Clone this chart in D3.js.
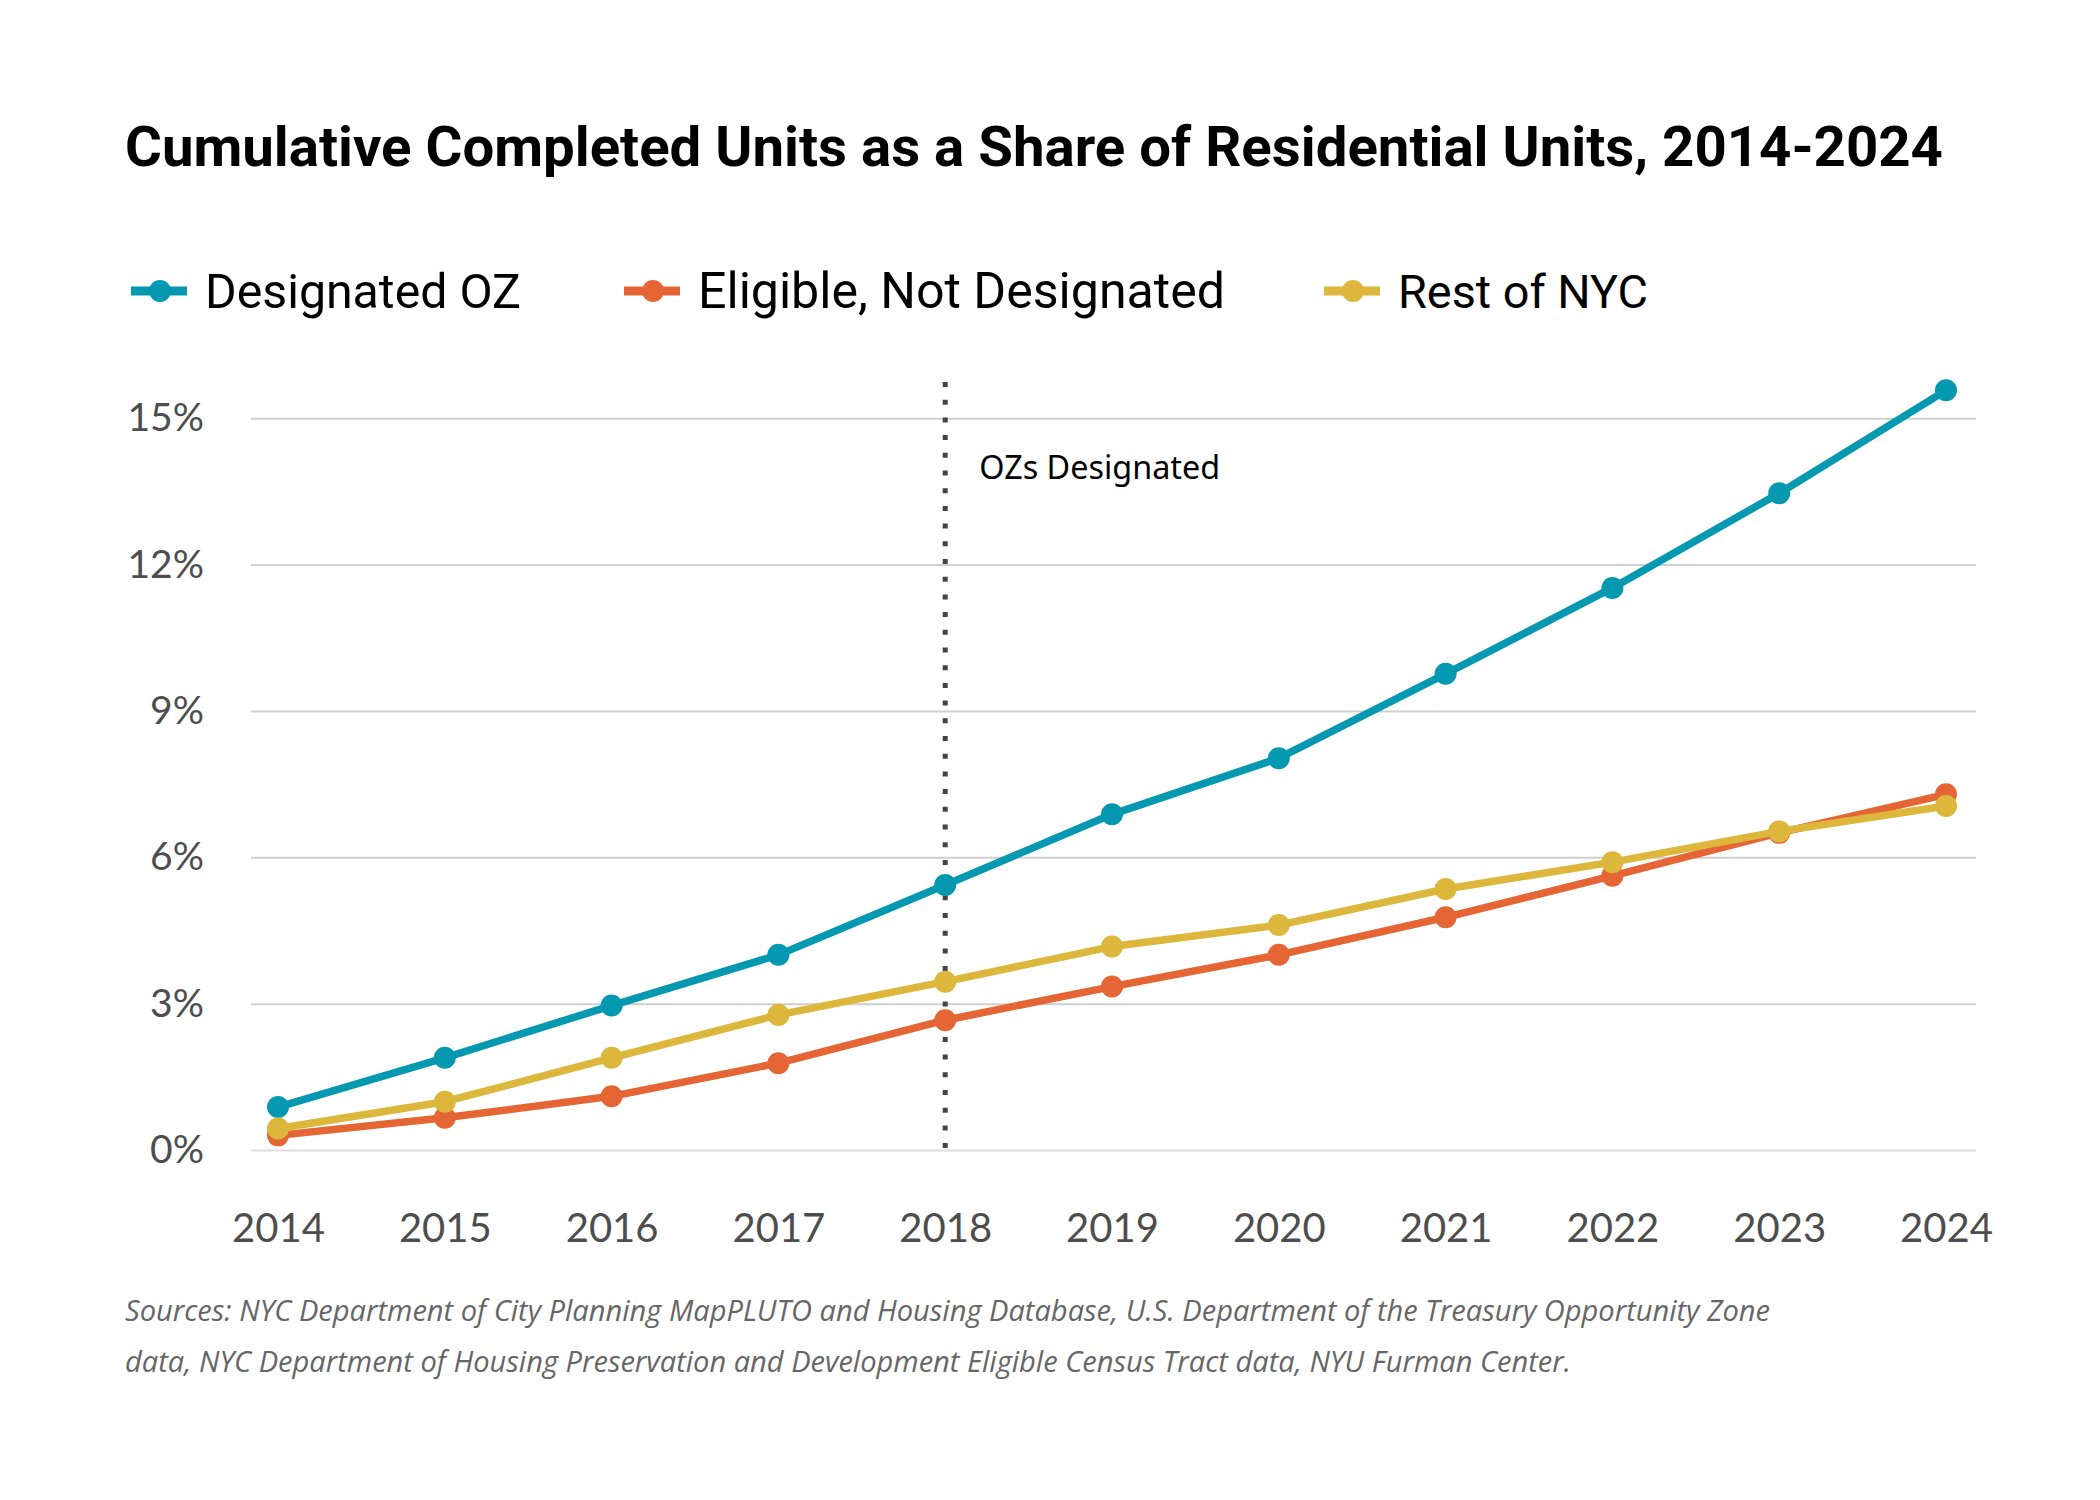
<!DOCTYPE html>
<html>
<head>
<meta charset="utf-8">
<script src="https://cdn.jsdelivr.net/npm/d3@7"></script>
<style>
    body { margin: 0; background: #fff; }
    svg { display: block; }
</style>
</head>
<body>
<div id="svg_container"></div>
<script>
const CANVAS = {
    w: 2100,
    h: 1500
};

// --- DATOS ---
const years = [2014, 2015, 2016, 2017, 2018, 2019, 2020, 2021, 2022, 2023, 2024];
const seriesNames = ["Designated OZ", "Eligible, Not Designated", "Rest of NYC"];
const designatedOZ = [0.88, 1.89, 2.96, 4.0, 5.43, 6.88, 8.03, 9.76, 11.52, 13.46, 15.57];
const eligibleNotDesignated = [0.30, 0.66, 1.10, 1.78, 2.66, 3.35, 4.0, 4.77, 5.62, 6.50, 7.29];
const restOfNYC = [0.44, 0.99, 1.89, 2.77, 3.45, 4.17, 4.61, 5.35, 5.90, 6.53, 7.05];
const yTicks = [0, 3, 6, 9, 12, 15];
const designationYear = 2018;

const title = "Cumulative Completed Units as a Share of Residential Units, 2014-2024";
const annotation = "OZs Designated";
const sourceLines = [
    "Sources: NYC Department of City Planning MapPLUTO and Housing Database, U.S. Department of the Treasury Opportunity Zone",
    "data, NYC Department of Housing Preservation and Development Eligible Census Tract data, NYU Furman Center."
];

const colors = ["#0499b1", "#e66535", "#dcb73c"];

const series = seriesNames.map((name, i) => ({
    name,
    color: colors[i],
    values: [designatedOZ, eligibleNotDesignated, restOfNYC][i].map((v, j) => ({ year: years[j], value: v }))
}));

// --- ESCALAS ---
const x = d3.scaleLinear().domain([2014, 2024]).range([278, 1946]);
const y = d3.scaleLinear().domain([0, 15.7]).range([1150, 384]);

const svg = d3
    .select("#svg_container")
    .append("svg")
    .attr("width", CANVAS.w)
    .attr("height", CANVAS.h)
    .attr("viewBox", `0 0 ${CANVAS.w} ${CANVAS.h}`);

// ajusta el tamaño de letra para que el texto ocupe el ancho medido
function fitWidth(sel, target) {
    const node = sel.node();
    const size = parseFloat(sel.attr("font-size"));
    const len = node.getComputedTextLength();
    sel.attr("font-size", size * target / len);
}

// --- TÍTULO ---
svg.append("text")
    .attr("x", 125)
    .attr("y", 166)
    .attr("font-family", "Roboto, 'Noto Sans', sans-serif")
    .attr("font-weight", 700)
    .attr("font-size", 52)
    .attr("fill", "#000")
    .text(title)
    .call(fitWidth, 1818);

// --- LEYENDA ---
const legendX = [131, 624, 1324];
const legendTextW = [316, 527, 250];

const legend = svg.selectAll("g.legend")
    .data(series)
    .enter()
    .append("g")
    .attr("class", "legend")
    .attr("transform", (d, i) => `translate(${legendX[i]},291)`);

legend.append("line")
    .attr("x1", 0)
    .attr("x2", 56)
    .attr("stroke", d => d.color)
    .attr("stroke-width", 9);

legend.append("circle")
    .attr("cx", 29)
    .attr("r", 11)
    .attr("fill", d => d.color);

legend.append("text")
    .attr("x", 74)
    .attr("y", 17)
    .attr("font-family", "Roboto, 'Noto Sans', sans-serif")
    .attr("font-size", 48)
    .attr("fill", "#000")
    .text(d => d.name)
    .each(function(d, i) { fitWidth(d3.select(this), legendTextW[i]); });

// --- EJES ---
const yAxis = svg.append("g")
    .attr("class", "y-axis")
    .attr("transform", "translate(251,0)")
    .call(d3.axisLeft(y).tickValues(yTicks).tickFormat(d => d + "%").tickSize(-1725).tickPadding(47));

yAxis.select(".domain").remove();
yAxis.selectAll(".tick line")
    .attr("stroke", d => d === 0 ? "#dedede" : "#cfcfcf")
    .attr("stroke-width", 2);
yAxis.selectAll(".tick text")
    .attr("font-family", "Lato, 'Noto Sans', sans-serif")
    .attr("font-size", 39)
    .attr("fill", "#4d4d4d")
    .attr("dy", "0.32em");

const xAxis = svg.append("g")
    .attr("class", "x-axis")
    .attr("transform", `translate(0,${y(0)})`)
    .call(d3.axisBottom(x).tickValues(years).tickFormat(d3.format("d")).tickSize(0).tickPadding(64));

xAxis.select(".domain").remove();
xAxis.selectAll(".tick text")
    .attr("font-family", "Lato, 'Noto Sans', sans-serif")
    .attr("font-size", 40)
    .attr("fill", "#4d4d4d");

// --- LÍNEA DE DESIGNACIÓN ---
svg.append("line")
    .attr("x1", x(designationYear))
    .attr("x2", x(designationYear))
    .attr("y1", y.range()[1] - 2)
    .attr("y2", y.range()[0])
    .attr("stroke", "#444")
    .attr("stroke-width", 5)
    .attr("stroke-dasharray", "5,12.7");

svg.append("text")
    .attr("x", x(designationYear) + 34)
    .attr("y", 479)
    .attr("font-family", "'Noto Sans', sans-serif")
    .attr("font-size", 30)
    .attr("fill", "#000")
    .text(annotation)
    .call(fitWidth, 241);

// --- SERIES ---
const line = d3.line()
    .x(d => x(d.year))
    .y(d => y(d.value));

const groups = svg.selectAll("g.series")
    .data(series)
    .enter()
    .append("g")
    .attr("class", "series");

groups.append("path")
    .attr("d", d => line(d.values))
    .attr("fill", "none")
    .attr("stroke", d => d.color)
    .attr("stroke-width", 7.5)
    .attr("stroke-linejoin", "round");

groups.selectAll("circle")
    .data(d => d.values.map(v => ({ ...v, color: d.color })))
    .enter()
    .append("circle")
    .attr("cx", d => x(d.year))
    .attr("cy", d => y(d.value))
    .attr("r", 11)
    .attr("fill", d => d.color);

// --- FUENTES ---
svg.selectAll("text.source")
    .data(sourceLines)
    .enter()
    .append("text")
    .attr("class", "source")
    .attr("x", 125)
    .attr("y", (d, i) => 1321 + i * 51)
    .attr("font-family", "'Open Sans', sans-serif")
    .attr("font-style", "italic")
    .attr("font-size", 27)
    .attr("fill", "#666")
    .text(d => d);

svg.select("text.source").call(fitWidth, 1646);
svg.selectAll("text.source").attr("font-size", svg.select("text.source").attr("font-size"));
</script>
</body>
</html>
